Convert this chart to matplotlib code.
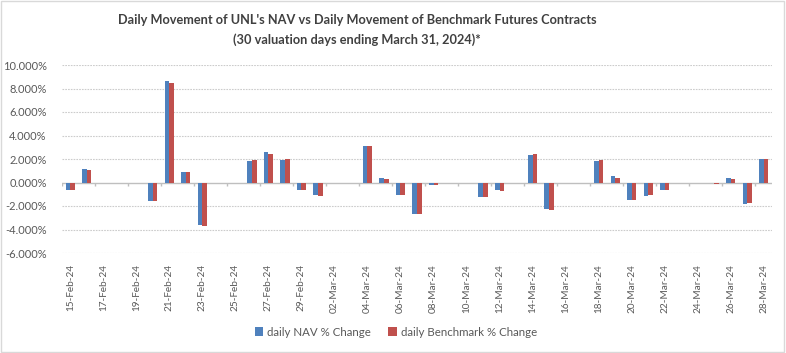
import matplotlib
matplotlib.use("Agg")
import matplotlib.pyplot as plt
import matplotlib.dates as mdates
from matplotlib.patches import Rectangle
import numpy as np
import datetime as dt

plt.rcParams['font.family'] = ['Lato', 'DejaVu Sans']

dates = ["2024-02-15", "2024-02-16", "2024-02-20", "2024-02-21", "2024-02-22", "2024-02-23",
         "2024-02-26", "2024-02-27", "2024-02-28", "2024-02-29", "2024-03-01",
         "2024-03-04", "2024-03-05", "2024-03-06", "2024-03-07", "2024-03-08",
         "2024-03-11", "2024-03-12", "2024-03-13", "2024-03-14", "2024-03-15",
         "2024-03-18", "2024-03-19", "2024-03-20", "2024-03-21", "2024-03-22",
         "2024-03-25", "2024-03-26", "2024-03-27", "2024-03-28"]
nav_change = [-0.63, 1.13, -1.56, 8.67, 0.87, -3.59,
              1.80, 2.57, 1.92, -0.65, -1.08,
              3.08, 0.36, -1.08, -2.69, -0.23,
              -1.25, -0.65, 0.0, 2.31, -2.26,
              1.80, 0.53, -1.50, -1.16, -0.65,
              -0.02, 0.36, -1.81, 1.97]
bench_change = [-0.63, 1.05, -1.56, 8.50, 0.87, -3.70,
                1.90, 2.40, 2.00, -0.65, -1.16,
                3.08, 0.28, -1.08, -2.69, -0.20,
                -1.25, -0.73, 0.0, 2.40, -2.35,
                1.90, 0.36, -1.50, -1.08, -0.65,
                -0.10, 0.28, -1.73, 1.97]
ylabels = [-6, -4, -2, 0, 2, 4, 6, 8, 10]

blue = "#4F81BD"
red = "#C0504D"
grey = "#595959"

x = mdates.date2num([dt.datetime.strptime(d, "%Y-%m-%d") for d in dates])
start = x[0]
end = mdates.date2num(dt.datetime(2024, 3, 28))

fig = plt.figure(figsize=(7.86, 3.53), dpi=100)
fig.patches.append(Rectangle((0.001, 0.002), 0.997, 0.995, transform=fig.transFigure,
                             fill=False, edgecolor="#d9d9d9", linewidth=1))
ax = fig.add_axes([62 / 786, 1 - 253 / 353, 710 / 786, 188 / 353])

w = 0.28
ax.bar(x - w / 2, nav_change, width=w, color=blue, label="daily NAV % Change", zorder=3)
ax.bar(x + w / 2, bench_change, width=w, color=red, label="daily Benchmark % Change", zorder=3)

ax.set_xlim(start - 0.5, end + 0.5)
ax.set_ylim(-6, 10)
ax.set_yticks(ylabels)
ax.set_yticklabels(["{:.3f}%".format(v) for v in ylabels], color=grey, fontsize=8)
for v in ylabels:
    if v != 0:
        ax.axhline(v, color="#cccccc", linewidth=0.8, linestyle=(0, (1.5, 1)), zorder=1)
ax.axhline(0, color="#bfbfbf", linewidth=1, zorder=2)

xt = np.arange(start, end + 1, 2)
ax.set_xticks(xt)
ax.set_xticklabels([mdates.num2date(t).strftime("%d-%b-%y") for t in xt],
                   rotation=90, color=grey, fontsize=7.2)
ax.tick_params(axis="both", length=0)
ax.tick_params(axis="x", pad=8)
ax.tick_params(axis="y", pad=11)
ax.vlines(xt - 0.5, -0.3, 0, color="#bfbfbf", linewidth=1, zorder=2)

for s in ax.spines.values():
    s.set_visible(False)

fig.text(357 / 786, 1 - 20 / 353, "Daily Movement of UNL's NAV vs Daily Movement of Benchmark Futures Contracts",
         ha="center", va="center", fontsize=9.2, fontweight="bold", color="#404040")
fig.text(357 / 786, 1 - 40 / 353, "(30 valuation days ending March 31, 2024)*",
         ha="center", va="center", fontsize=9.2, fontweight="bold", color="#404040")

fig.legend(loc="center", bbox_to_anchor=(396 / 786, 1 - 332 / 353), ncol=2, frameon=False,
           fontsize=8.3, handlelength=0.7, handleheight=0.7, handletextpad=0.4,
           columnspacing=1.5, labelcolor=grey)

plt.savefig("out.png", dpi=100)
